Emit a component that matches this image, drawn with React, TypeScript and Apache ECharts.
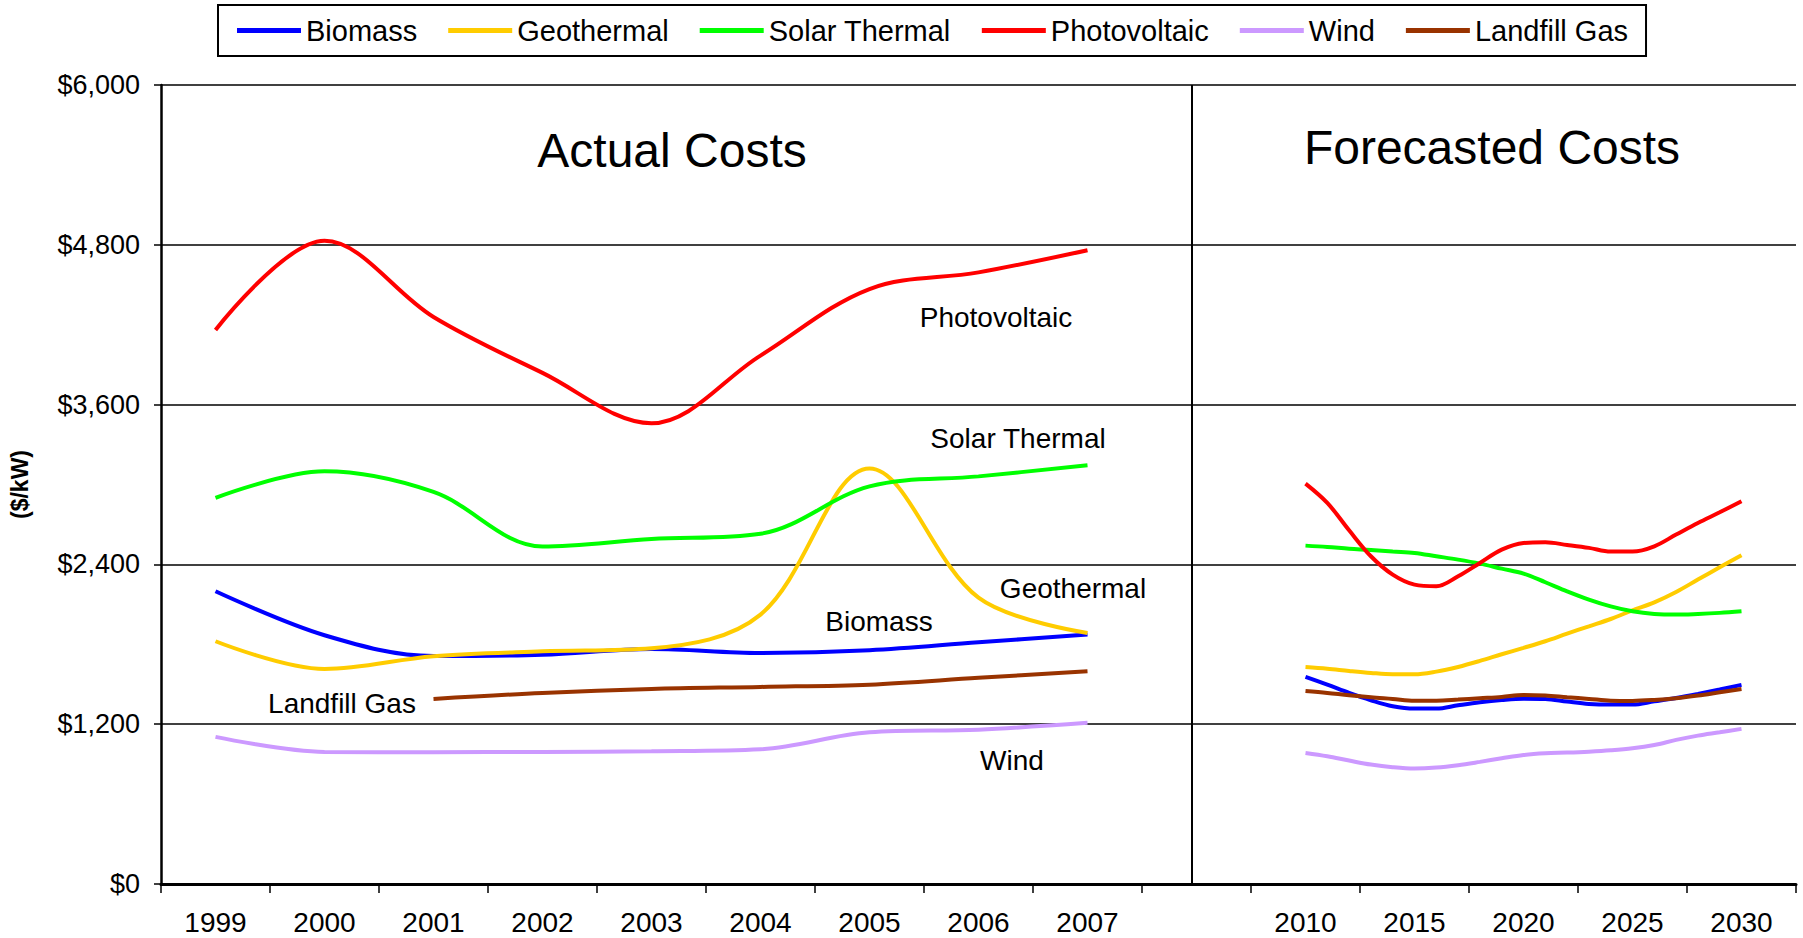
import React, { useEffect, useRef } from "react";
import * as echarts from "echarts";

// Category labels along the x axis (one empty slot separates actual and forecast)
const categoryLabels = ["1999", "2000", "2001", "2002", "2003", "2004", "2005", "2006", "2007", "", "2010", "2015", "2020", "2025", "2030"];

// Actual costs, annual ($/kW)
const actualYears = [1999, 2000, 2001, 2002, 2003, 2004, 2005, 2006, 2007];
const biomassActual = [2198, 1868, 1712, 1722, 1765, 1735, 1755, 1815, 1873];
const geothermalActual = [1823, 1615, 1710, 1747, 1770, 2023, 3120, 2150, 1885];
const solarThermalActual = [2900, 3099, 2944, 2535, 2590, 2630, 2986, 3061, 3144];
const photovoltaicActual = [4160, 4830, 4258, 3838, 3460, 3968, 4468, 4593, 4759];
const windActual = [1105, 992, 990, 992, 997, 1012, 1139, 1159, 1210];
const landfillGasActual = [null, null, 1390, 1435, 1465, 1480, 1497, 1548, 1597];

// Forecasted costs, annual ($/kW)
const forecastYears = [2010, 2011, 2012, 2013, 2014, 2015, 2016, 2017, 2018, 2019, 2020, 2021, 2022, 2023, 2024, 2025, 2026, 2027, 2028, 2029, 2030];
const biomassForecast = [1555, 1497, 1435, 1380, 1335, 1317, 1317, 1342, 1365, 1382, 1392, 1390, 1370, 1352, 1347, 1347, 1372, 1397, 1427, 1460, 1495];
const geothermalForecast = [1630, 1617, 1600, 1585, 1575, 1575, 1595, 1630, 1675, 1725, 1773, 1823, 1880, 1935, 1990, 2055, 2115, 2193, 2286, 2378, 2468];
const solarThermalForecast = [2541, 2531, 2518, 2508, 2496, 2486, 2461, 2436, 2406, 2368, 2331, 2266, 2198, 2136, 2085, 2048, 2028, 2023, 2028, 2036, 2048];
const photovoltaicForecast = [3007, 2862, 2656, 2461, 2323, 2248, 2236, 2311, 2411, 2511, 2561, 2566, 2546, 2524, 2496, 2496, 2536, 2624, 2711, 2791, 2874];
const windForecast = [984, 959, 927, 897, 877, 867, 874, 892, 917, 944, 969, 982, 987, 994, 1004, 1019, 1044, 1082, 1114, 1139, 1165];
const landfillGasForecast = [1450, 1435, 1417, 1402, 1390, 1377, 1377, 1385, 1395, 1405, 1420, 1415, 1402, 1390, 1377, 1375, 1382, 1395, 1415, 1440, 1465];

// Y axis ticks
const yMin = 0;
const yMax = 6000;
const yStep = 1200;

const FONT = '"Liberation Sans", Arial, Helvetica, sans-serif';

// Map a year onto the 15-slot category scale (slot centres at n + 0.5)
const actualPos = (year: number) => year - actualYears[0] + 0.5;
const forecastPos = (year: number) => 10.5 + (year - forecastYears[0]) / 5;

const techs = [
  { name: "Biomass", color: "#0000FF", actual: biomassActual, forecast: biomassForecast },
  { name: "Geothermal", color: "#FFCC00", actual: geothermalActual, forecast: geothermalForecast },
  { name: "Solar Thermal", color: "#00FF00", actual: solarThermalActual, forecast: solarThermalForecast },
  { name: "Photovoltaic", color: "#FF0000", actual: photovoltaicActual, forecast: photovoltaicForecast },
  { name: "Wind", color: "#CC99FF", actual: windActual, forecast: windForecast },
  { name: "Landfill Gas", color: "#993300", actual: landfillGasActual, forecast: landfillGasForecast },
];

const annotations = [
  { text: "Actual Costs", x: 672, y: 150, size: 48 },
  { text: "Forecasted Costs", x: 1492, y: 147, size: 48 },
  { text: "Photovoltaic", x: 996, y: 317, size: 28 },
  { text: "Solar Thermal", x: 1018, y: 438, size: 28 },
  { text: "Geothermal", x: 1073, y: 588, size: 28 },
  { text: "Biomass", x: 879, y: 621, size: 28 },
  { text: "Landfill Gas", x: 342, y: 703, size: 28 },
  { text: "Wind", x: 1012, y: 760, size: 28 },
];

export default function App() {
  const ref = useRef<HTMLDivElement>(null);

  useEffect(() => {
    if (!ref.current) return;
    const chart = echarts.init(ref.current, undefined, { renderer: "svg" });

    const series: any[] = [];
    techs.forEach((t) => {
      const actualData = actualYears
        .map((yr, i) => (t.actual[i] == null ? null : [actualPos(yr), t.actual[i]]))
        .filter((d) => d !== null);
      const forecastData = forecastYears.map((yr, i) => [forecastPos(yr), t.forecast[i]]);
      const common = {
        name: t.name,
        type: "line",
        xAxisIndex: 1,
        yAxisIndex: 0,
        smooth: 0.35,
        symbol: "none",
        showSymbol: false,
        color: t.color,
        lineStyle: { color: t.color, width: 4 },
        emphasis: { disabled: true },
      };
      series.push({ ...common, data: actualData });
      series.push({ ...common, data: forecastData });
    });

    // Divider between actual and forecast sections
    series.push({
      type: "line",
      xAxisIndex: 1,
      yAxisIndex: 0,
      data: [],
      silent: true,
      markLine: {
        symbol: "none",
        silent: true,
        label: { show: false },
        lineStyle: { color: "#000", width: 2, type: "solid" },
        data: [{ xAxis: 9.46 }],
      },
    });

    chart.setOption({
      animation: false,
      backgroundColor: "#fff",
      legend: {
        data: techs.map((t) => t.name),
        left: 218,
        top: 5,
        padding: [11, 18, 11, 19],
        borderColor: "#000",
        borderWidth: 2,
        itemWidth: 64,
        itemHeight: 5,
        itemGap: 31,
        itemTextGap: 8,
        icon: "rect",
        selectedMode: false,
        textStyle: { color: "#000", fontSize: 29, fontFamily: FONT },
      },
      grid: { left: 159, right: 7, top: 85, bottom: 54, containLabel: false },
      xAxis: [
        {
          type: "category",
          data: categoryLabels,
          position: "bottom",
          boundaryGap: true,
          axisLine: { show: true, lineStyle: { color: "#000", width: 3 } },
          axisTick: { show: true, interval: 0, length: 9, lineStyle: { color: "#000", width: 1.5 } },
          axisLabel: { interval: 0, color: "#000", fontSize: 28, fontFamily: FONT, margin: 24 },
          splitLine: { show: false },
        },
        {
          type: "value",
          min: 0,
          max: categoryLabels.length,
          show: false,
          splitLine: { show: false },
        },
      ],
      yAxis: {
        type: "value",
        min: yMin,
        max: yMax,
        interval: yStep,
        name: "($/kW)",
        nameLocation: "middle",
        nameRotate: 90,
        nameGap: 130,
        nameTextStyle: { color: "#000", fontSize: 23, fontWeight: "bold", fontFamily: FONT },
        axisLine: { show: true, lineStyle: { color: "#000", width: 2.5 } },
        axisTick: { show: true, length: 7, lineStyle: { color: "#000", width: 1.5 } },
        axisLabel: {
          color: "#000",
          fontSize: 27,
          fontFamily: FONT,
          margin: 21,
          formatter: (v: number) => "$" + v.toLocaleString("en-US"),
        },
        splitLine: { show: true, lineStyle: { color: "#000", width: 1.5 } },
      },
      graphic: annotations.map((a) => ({
        type: "text",
        x: a.x,
        y: a.y,
        silent: true,
        style: {
          text: a.text,
          fill: "#000",
          font: `${a.size}px ${FONT}`,
          textAlign: "center",
          textVerticalAlign: "middle",
          align: "center",
          verticalAlign: "middle",
        },
      })),
      series,
    });

    return () => chart.dispose();
  }, []);

  return (
    <div
      ref={ref}
      style={{ position: "fixed", left: 0, top: 0, width: 1803, height: 938, background: "#fff" }}
    />
  );
}
